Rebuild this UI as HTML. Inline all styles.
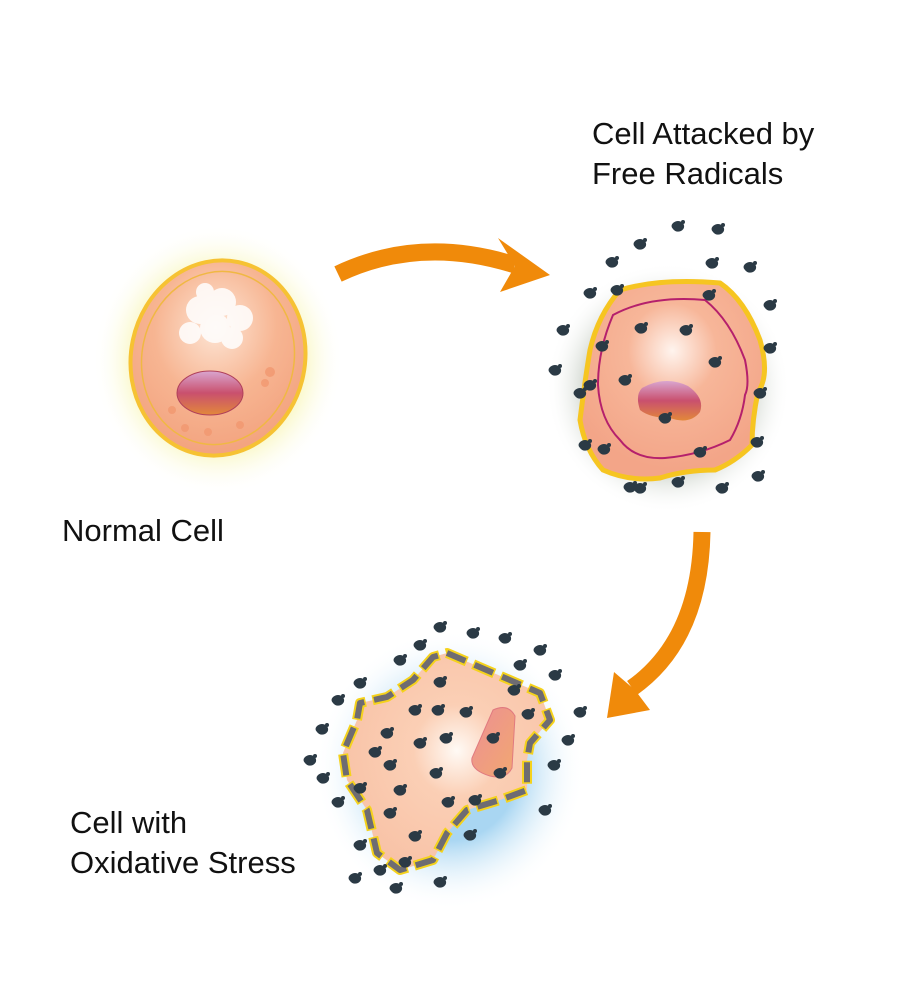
<!DOCTYPE html>
<html><head><meta charset="utf-8"><style>
html,body{margin:0;padding:0;background:#fff;}
svg{display:block}
text{font-family:"Liberation Sans","DejaVu Sans",sans-serif;fill:#111;font-size:31px}
</style></head><body>
<svg width="900" height="1000" viewBox="0 0 900 1000" xmlns="http://www.w3.org/2000/svg">
<defs>
<radialGradient id="glowY"><stop offset="0.6" stop-color="#f6f3a0" stop-opacity="0.9"/><stop offset="1" stop-color="#fff" stop-opacity="0"/></radialGradient>
<radialGradient id="cellA" cx="0.45" cy="0.35" r="0.7"><stop offset="0" stop-color="#fde6d6"/><stop offset="0.5" stop-color="#f7b592"/><stop offset="1" stop-color="#f2a07c"/></radialGradient>
<radialGradient id="glowG"><stop offset="0.55" stop-color="#aab5a6"/><stop offset="1" stop-color="#fff" stop-opacity="0"/></radialGradient>
<radialGradient id="cellB" cx="0.5" cy="0.35" r="0.6"><stop offset="0" stop-color="#fff4ee"/><stop offset="0.4" stop-color="#f7b699"/><stop offset="1" stop-color="#f3a588"/></radialGradient>
<radialGradient id="glowB"><stop offset="0.5" stop-color="#a9d6f2"/><stop offset="1" stop-color="#fff" stop-opacity="0"/></radialGradient>
<radialGradient id="cellC" cx="0.55" cy="0.45" r="0.6"><stop offset="0" stop-color="#fffaf5"/><stop offset="0.35" stop-color="#fbcfb5"/><stop offset="1" stop-color="#f8c2a6"/></radialGradient>
<linearGradient id="nuc" x1="0" y1="0" x2="0" y2="1"><stop offset="0" stop-color="#d9a6d0"/><stop offset="0.5" stop-color="#c9506e"/><stop offset="1" stop-color="#e2883a"/></linearGradient>
<linearGradient id="nuc2" x1="0" y1="0" x2="1" y2="1"><stop offset="0" stop-color="#ec8f94"/><stop offset="1" stop-color="#f2a870"/></linearGradient>
<g id="p"><path d="M-5,-3 Q0,-7 5,-3 Q8,2 3,5 Q-2,7 -5,3 Q-8,0 -5,-3Z" fill="#2b3a45"/><circle cx="5" cy="-4" r="2" fill="#2b3a45"/></g>
</defs>

<!-- Normal cell -->
<ellipse cx="218" cy="360" rx="125" ry="135" fill="url(#glowY)"/>
<ellipse cx="218" cy="358" rx="87" ry="98" fill="url(#cellA)" stroke="#f6c233" stroke-width="4" transform="rotate(12 218 358)"/>
<ellipse cx="218" cy="358" rx="76" ry="87" fill="none" stroke="#f0b843" stroke-width="1.5" transform="rotate(12 218 358)"/>
<g fill="#fff" opacity="0.85">
<circle cx="200" cy="310" r="14"/><circle cx="222" cy="302" r="14"/><circle cx="240" cy="318" r="13"/><circle cx="215" cy="328" r="15"/><circle cx="190" cy="333" r="11"/><circle cx="232" cy="338" r="11"/><circle cx="205" cy="292" r="9"/>
</g>
<ellipse cx="210" cy="393" rx="33" ry="22" fill="url(#nuc)" stroke="#b0405a" stroke-width="1"/>
<g fill="#f29870" opacity="0.8"><circle cx="270" cy="372" r="5"/><circle cx="265" cy="383" r="4"/><circle cx="185" cy="428" r="4"/><circle cx="208" cy="432" r="4"/><circle cx="240" cy="425" r="4"/><circle cx="172" cy="410" r="4"/></g>
<text x="62" y="541">Normal Cell</text>

<!-- arrows -->
<path d="M338,274 Q420,235 515,265" fill="none" stroke="#f08a0a" stroke-width="17"/>
<polygon points="498,238 550,275 500,292 515,266" fill="#f08a0a"/>
<path d="M702,532 Q700,640 632,688" fill="none" stroke="#f08a0a" stroke-width="17"/>
<polygon points="614,672 607,718 650,710 635,690" fill="#f08a0a"/>

<!-- Cell 2 -->
<ellipse cx="668" cy="388" rx="122" ry="125" fill="url(#glowG)"/>
<path d="M620,290 Q660,278 720,283 Q745,300 760,340 Q770,375 758,392 Q752,420 752,445 Q735,462 715,470 Q685,470 660,478 Q630,482 603,470 Q585,450 580,420 Q585,380 590,350 Q598,315 620,290Z" fill="url(#cellB)" stroke="#f6c521" stroke-width="5"/>
<path d="M613,315 Q650,295 705,300 Q730,320 745,360 Q750,385 745,395 Q742,420 730,440 Q700,455 665,458 Q635,460 620,440 Q600,420 598,385 Q598,350 613,315Z" fill="none" stroke="#b5206c" stroke-width="2"/>
<path d="M642,388 Q665,375 688,386 Q705,398 700,412 Q690,425 670,418 Q650,418 640,410 Q635,395 642,388Z" fill="url(#nuc)"/>
<text x="592" y="144">Cell Attacked by</text>
<text x="592" y="184">Free Radicals</text>

<!-- Cell 3 -->
<ellipse cx="450" cy="770" rx="135" ry="140" fill="url(#glowB)"/>
<path d="M447,653 L540,693 L550,720 L530,743 L527,760 L527,790 L500,800 L467,810 L447,833 L433,860 L400,870 L377,853 L367,810 L347,780 L343,753 L357,720 L360,703 L387,697 L413,680 L433,657Z" fill="url(#cellC)" stroke="none"/>
<path d="M447,653 L540,693 L550,720 L530,743 L527,760 L527,790 L500,800 L467,810 L447,833 L433,860 L400,870 L377,853 L367,810 L347,780 L343,753 L357,720 L360,703 L387,697 L413,680 L433,657Z" fill="none" stroke="#f5d21c" stroke-width="10" stroke-dasharray="23 7" stroke-dashoffset="1.5" stroke-linejoin="round"/>
<path d="M447,653 L540,693 L550,720 L530,743 L527,760 L527,790 L500,800 L467,810 L447,833 L433,860 L400,870 L377,853 L367,810 L347,780 L343,753 L357,720 L360,703 L387,697 L413,680 L433,657Z" fill="none" stroke="#6e6c72" stroke-width="6" stroke-dasharray="20 10" stroke-linejoin="round"/>
<path d="M493,710 Q508,703 515,716 L512,768 Q506,780 490,776 Q470,770 472,758 Z" fill="url(#nuc2)" stroke="#e07a80" stroke-width="1"/>
<text x="70" y="833">Cell with</text>
<text x="70" y="873">Oxidative Stress</text>

<!-- particles -->
<g>
<use href="#p" x="678" y="226"/><use href="#p" x="718" y="229"/><use href="#p" x="640" y="244"/><use href="#p" x="612" y="262"/><use href="#p" x="712" y="263"/><use href="#p" x="750" y="267"/><use href="#p" x="590" y="293"/><use href="#p" x="617" y="290"/><use href="#p" x="709" y="295"/><use href="#p" x="770" y="305"/><use href="#p" x="563" y="330"/><use href="#p" x="641" y="328"/><use href="#p" x="686" y="330"/><use href="#p" x="770" y="348"/><use href="#p" x="555" y="370"/><use href="#p" x="602" y="346"/><use href="#p" x="625" y="380"/><use href="#p" x="715" y="362"/><use href="#p" x="580" y="393"/><use href="#p" x="590" y="385"/><use href="#p" x="665" y="418"/><use href="#p" x="760" y="393"/><use href="#p" x="585" y="445"/><use href="#p" x="604" y="449"/><use href="#p" x="700" y="452"/><use href="#p" x="757" y="442"/><use href="#p" x="630" y="487"/><use href="#p" x="640" y="488"/><use href="#p" x="678" y="482"/><use href="#p" x="722" y="488"/><use href="#p" x="758" y="476"/>
<use href="#p" x="440" y="627"/><use href="#p" x="473" y="633"/><use href="#p" x="505" y="638"/><use href="#p" x="420" y="645"/><use href="#p" x="540" y="650"/><use href="#p" x="400" y="660"/><use href="#p" x="520" y="665"/><use href="#p" x="360" y="683"/><use href="#p" x="555" y="675"/><use href="#p" x="440" y="682"/><use href="#p" x="514" y="690"/><use href="#p" x="580" y="712"/><use href="#p" x="338" y="700"/><use href="#p" x="415" y="710"/><use href="#p" x="438" y="710"/><use href="#p" x="466" y="712"/><use href="#p" x="528" y="714"/><use href="#p" x="322" y="729"/><use href="#p" x="387" y="733"/><use href="#p" x="420" y="743"/><use href="#p" x="446" y="738"/><use href="#p" x="493" y="738"/><use href="#p" x="568" y="740"/><use href="#p" x="375" y="752"/><use href="#p" x="390" y="765"/><use href="#p" x="310" y="760"/><use href="#p" x="436" y="773"/><use href="#p" x="500" y="773"/><use href="#p" x="554" y="765"/><use href="#p" x="323" y="778"/><use href="#p" x="360" y="788"/><use href="#p" x="400" y="790"/><use href="#p" x="448" y="802"/><use href="#p" x="475" y="800"/><use href="#p" x="545" y="810"/><use href="#p" x="338" y="802"/><use href="#p" x="390" y="813"/><use href="#p" x="415" y="836"/><use href="#p" x="470" y="835"/><use href="#p" x="360" y="845"/><use href="#p" x="405" y="862"/><use href="#p" x="355" y="878"/><use href="#p" x="380" y="870"/><use href="#p" x="396" y="888"/><use href="#p" x="440" y="882"/>
</g>
</svg>
</body></html>
